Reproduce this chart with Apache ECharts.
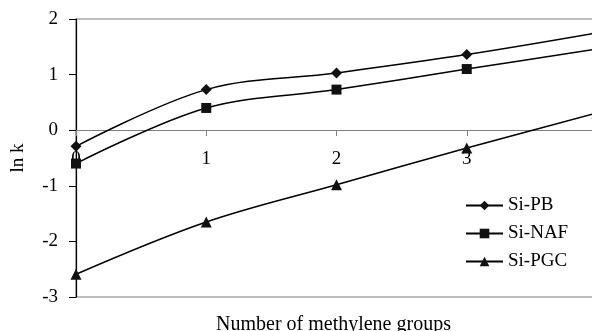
<!DOCTYPE html>
<html><head><meta charset="utf-8">
<script src="https://cdn.jsdelivr.net/npm/echarts@6/dist/echarts.min.js"></script>
<style>html,body{margin:0;padding:0;background:#fff}#c{width:592px;height:331px}</style>
</head><body><div id="c"></div>
<script>
const xValues = [0, 1, 2, 3, 4];
const siPB  = [-0.29, 0.73, 1.03, 1.36, 1.75];
const siNAF = [-0.60, 0.40, 0.73, 1.10, 1.46];
const siPGC = [-2.59, -1.65, -0.98, -0.32, 0.31];
const seriesNames = ['Si-PB', 'Si-NAF', 'Si-PGC'];
const yTicks = [-3, -2, -1, 0, 1, 2];

const font = 'Liberation Serif';
const chart = echarts.init(document.getElementById('c'));
function pts(arr){ return xValues.map((x,i)=>[x, arr[i]]); }
function mk(name, data, sym, size){
  return {name, type:'line', data:pts(data), smooth:0.35, symbol:sym, symbolSize:size,
    lineStyle:{color:'#000', width:1.5}, itemStyle:{color:'#111'}, z:3};
}
chart.setOption({
  animation:false,
  backgroundColor:'#fff',
  textStyle:{fontFamily:font},
  grid:{left:76, top:19, right:-5, bottom:34, outerBoundsMode:'none', containLabel:false,
    show:true, borderColor:'#808080', borderWidth:1.2, backgroundColor:'transparent'},
  xAxis:{type:'value', min:0, max:4, interval:1, offset:-167,
    axisLine:{onZero:false, lineStyle:{color:'#808080', width:1.2}},
    axisTick:{show:true, length:6, lineStyle:{color:'#808080'}},
    axisLabel:{color:'#000', fontSize:19, fontFamily:font, margin:20, showMaxLabel:true, hideOverlap:false},
    splitLine:{show:false}},
  yAxis:{type:'value', min:yTicks[0], max:yTicks[yTicks.length-1], interval:1,
    axisLine:{show:true, onZero:false, lineStyle:{color:'#000', width:1.2}},
    axisTick:{show:true, length:7, lineStyle:{color:'#000'}},
    axisLabel:{color:'#000', fontSize:19, fontFamily:font, margin:18},
    splitLine:{show:false},
    name:'ln k', nameLocation:'middle', nameGap:48, nameRotate:90,
    nameTextStyle:{color:'#000', fontSize:19, fontFamily:font}},
  legend:{orient:'vertical', left:460, top:191, itemWidth:37, itemHeight:12, itemGap:9,
    textStyle:{color:'#000', fontSize:19, fontFamily:font, lineHeight:19},
    data:seriesNames},
  title:{text:'Number of methylene groups', left:211, top:310,
    textStyle:{color:'#000', fontSize:20, fontWeight:'normal', fontFamily:font}},
  series:[
    mk(seriesNames[0], siPB, 'diamond', 11),
    mk(seriesNames[1], siNAF, 'rect', 10),
    mk(seriesNames[2], siPGC, 'triangle', 11)
  ]
});
</script></body></html>
